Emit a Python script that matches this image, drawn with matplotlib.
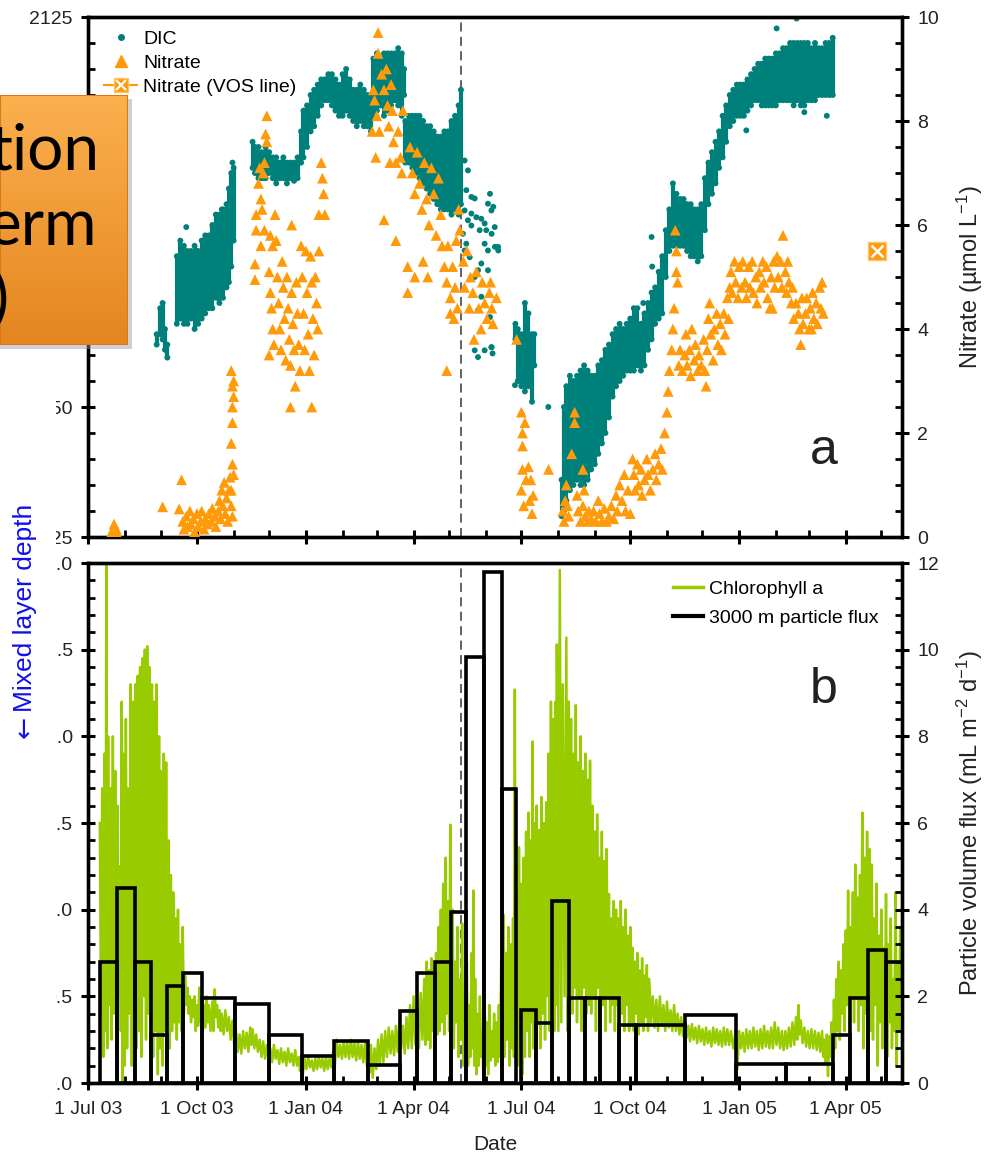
import matplotlib
matplotlib.use("Agg")

from datetime import datetime

import numpy as np
import matplotlib.pyplot as plt
import matplotlib.dates as mdates
from matplotlib.lines import Line2D
from matplotlib.patches import Rectangle
from matplotlib.ticker import MultipleLocator
from matplotlib.legend_handler import HandlerTuple

plt.rcParams["font.family"] = ["Liberation Sans", "DejaVu Sans"]
plt.rcParams["mathtext.default"] = "regular"

# all days counted from 1 Jul 2003
BASE = mdates.date2num(datetime(2003, 7, 1))
X_END = 687.5
EVENT_DAY = 315

# ---- panel a: DIC (band of dense points, low / high edge per node) ----
dic_day = [58, 61, 63, 65, 67,
           75, 78, 81, 84, 87, 90, 93, 96, 99, 102, 105, 108, 111, 114, 117, 119, 121, 123,
           139, 141, 144, 147, 150, 153, 156, 159, 162, 165, 168, 171, 174, 177,
           180, 182, 185, 188, 191, 194, 197,
           200, 203, 206, 209, 212, 215, 218, 221, 224, 227, 230, 233, 236, 239,
           241, 244, 247, 250, 253, 256, 259, 262, 265, 267,
           268, 271, 274, 277, 280, 283, 286, 289, 292, 295, 298, 301, 304, 307, 310, 313, 315,
           361, 363, 366, 369, 372, 375, 377,
           400, 402, 404, 407, 410, 413, 416, 419, 422, 425, 428, 431, 434, 437, 440, 443,
           446, 449, 452, 455, 458, 461, 464, 467, 470, 473, 476, 479, 482, 485, 488, 491,
           494, 497, 500, 503, 506, 509, 512, 515, 518, 521, 524, 527, 530, 533, 536, 539,
           542, 545, 548, 551, 554, 557, 560, 563, 566, 569, 572, 575, 578, 581, 584, 587,
           590, 593, 596, 599, 602, 605, 608, 611, 614, 617, 620, 623, 626, 629]
dic_lo = [2062, 2064, 2063, 2061, 2059.5,
          2066, 2067, 2066, 2066, 2067, 2065, 2066, 2067, 2068, 2069, 2069, 2071, 2070, 2071, 2073, 2074, 2077, 2082,
          2096, 2095, 2094, 2094, 2094, 2095, 2094, 2093, 2094, 2094, 2093, 2094, 2093.5, 2094,
          2097, 2098, 2100, 2103, 2104, 2106, 2108,
          2109, 2109, 2108, 2107, 2106, 2106, 2107, 2106, 2105, 2104, 2105, 2104, 2104, 2103,
          2106, 2107, 2108, 2106, 2107, 2108, 2109, 2108, 2106, 2110,
          2097, 2097, 2096, 2095, 2094, 2093, 2092, 2091, 2090, 2089, 2088, 2088, 2088, 2087, 2088, 2087, 2089,
          2063, 2055, 2054, 2053, 2054, 2051, 2058,
          2029, 2030, 2032, 2034, 2035, 2036, 2035, 2035, 2036, 2038, 2039, 2041, 2043, 2045, 2048, 2052,
          2054, 2055, 2056, 2057, 2057, 2057, 2058, 2057, 2058, 2061, 2063, 2066, 2067, 2068, 2075, 2080,
          2081, 2081, 2081, 2081, 2080, 2079, 2079, 2078, 2079, 2084, 2089, 2091, 2093, 2096, 2098, 2101,
          2104, 2105, 2106, 2106, 2106, 2107, 2108, 2109, 2109, 2108, 2108, 2108, 2108, 2108, 2109, 2109,
          2109, 2109, 2108, 2109, 2108, 2108, 2109, 2109, 2109, 2110, 2110, 2110, 2110, 2110]
dic_hi = [2064, 2069, 2070, 2065, 2062,
          2079, 2082, 2081, 2080, 2080, 2081, 2080, 2082, 2083, 2083, 2085, 2087, 2087, 2088, 2089, 2092, 2095, 2096,
          2101, 2100, 2100, 2099, 2100, 2099, 2098, 2098, 2097, 2098, 2097, 2097, 2097, 2098,
          2103, 2107, 2108, 2110, 2111, 2112, 2113,
          2113, 2114, 2114, 2113, 2112, 2114, 2115, 2113, 2111, 2111, 2112, 2111, 2110, 2110,
          2117, 2118, 2117, 2118, 2118, 2118, 2118, 2119, 2118, 2115,
          2105, 2106, 2106, 2106, 2106, 2105, 2104, 2104, 2103, 2102, 2102, 2103, 2103, 2105, 2106, 2108, 2111,
          2066, 2065, 2064, 2070, 2068, 2064, 2064,
          2036, 2050, 2054, 2056, 2055, 2056, 2057, 2058, 2057, 2056, 2056, 2058, 2059, 2061, 2062, 2064,
          2065, 2066, 2065, 2066, 2067, 2069, 2069, 2066, 2068, 2070, 2072, 2073, 2076, 2079, 2084, 2088,
          2093, 2091, 2090, 2090, 2089, 2089, 2088, 2088, 2089, 2094, 2097, 2099, 2101, 2103, 2106, 2108,
          2110, 2111, 2112, 2112, 2112, 2113, 2114, 2115, 2116, 2116, 2117, 2117, 2117, 2118, 2118, 2119,
          2119, 2120, 2120, 2120, 2120, 2120, 2120, 2119, 2120, 2119, 2119, 2120, 2120, 2121]

# scattered single DIC points
dic_dot_day = [318.1, 320.9, 319.5, 323.8, 326.6, 318.1, 320.9, 323.8, 328.0, 330.8, 332.2, 335.0,
               336.4, 337.8, 340.7, 343.5, 346.3, 335.0, 337.8, 332.2, 329.4, 326.6, 337.8, 332.2,
               329.4, 326.6, 329.4, 335.0, 340.7, 318.1, 316.7, 319.5, 322.4, 323.8, 339.5, 342.3,
               340.9, 343.7, 346.5, 339.5, 340.9, 341.7, 360.6, 366.2, 388.8, 476, 476.5, 469,
               598.5, 581.6, 556, 624, 605, 83, 113, 122]
dic_dot_val = [2097.4, 2095.5, 2091.7, 2090.4, 2090.1, 2087.8, 2085.9, 2084.9, 2086.5, 2084.0, 2086.2, 2085.3,
               2084.0, 2089.1, 2087.8, 2084.6, 2080.8, 2081.4, 2080.1, 2077.6, 2076.3, 2075.0, 2076.3, 2071.2,
               2068.6, 2060.9, 2059.6, 2060.9, 2061.5, 2080.1, 2083.3, 2081.4, 2078.8, 2087.2, 2091.0, 2088.5,
               2083.3, 2080.8, 2080.1, 2067.3, 2061.5, 2060.3, 2054.2, 2048.7, 2050.0, 2082.7, 2077.0, 2070.0,
               2124.7, 2122.8, 2103.2, 2106.0, 2106.7, 2084.6, 2088.0, 2097.0]

# ---- panel a: nitrate ----
nit_day = [20, 22, 24, 25, 63, 77, 79,
           80, 81, 83, 84, 86, 87, 89, 90, 92, 93, 95, 96, 98, 99, 101, 102, 104, 105, 107, 108,
           110, 111, 112, 113, 114, 115, 116, 117, 118, 119, 120, 121, 122,
           121, 122, 122, 123, 122, 123, 121, 123, 122, 121,
           141, 141, 142, 142, 145, 146, 144, 151, 150, 151, 149, 148, 147, 149, 146, 154, 156,
           153, 154, 155, 156, 157, 153,
           158, 159, 160, 161, 162, 163, 164, 165, 166, 167, 168, 169, 170, 171, 172, 173, 174,
           175, 176, 177, 178, 179, 180, 171, 172,
           181, 182, 183, 184, 185, 186, 187, 188, 189, 190, 191, 189, 192, 193, 194, 195,
           197, 198, 199, 200, 195,
           245, 245, 241, 242, 244, 246, 248, 250, 252, 253, 254, 256, 257, 258, 260, 262, 264,
           265, 240, 243, 250, 260, 270, 255, 266,
           272, 274, 276, 278, 280, 282, 284, 286, 288, 290, 292, 294, 296, 298, 299, 301, 303,
           304, 306, 308, 309, 311, 312, 313, 314, 283, 287, 276, 270, 303, 306, 310,
           317, 318, 320, 322, 323, 325, 326, 328, 330, 332, 333, 335, 337, 339, 340, 341, 342, 345,
           362, 366, 367, 367, 369, 367, 366, 368, 370, 372, 374, 373, 375, 376,
           389,
           401, 402, 403, 404, 405, 406, 411, 411, 408.5, 418, 413, 414, 416, 418, 419, 420, 422, 423,
           425, 427, 429, 431, 432, 434, 436, 438, 440, 442, 444, 446, 447, 449, 451, 453, 454, 456, 458,
           460, 461, 462, 464, 465, 467, 468, 470, 472, 473, 475, 477, 479, 480, 482, 484, 485,
           487, 489, 490, 491, 493, 494, 495, 496, 497, 497, 498,
           499, 500, 502, 504, 505, 506, 508, 509, 510, 512, 513, 515, 516, 518, 520, 521, 523, 522,
           524, 525, 526, 528, 529, 531, 532, 534, 535, 537, 538, 540, 541, 542,
           543, 544, 546, 547, 549, 550, 552, 553, 555, 556, 558, 559, 561, 562, 564, 565, 578,
           567, 568, 570, 571, 573, 574, 576, 577, 579, 580, 582, 583, 585, 586, 587,
           589, 590, 591, 592, 594, 595, 596, 598, 600, 601, 602, 604, 603,
           606, 607, 609, 610, 612, 613, 615, 616, 618, 619, 620, 621, 611]
nit_val = [0.1, 0.25, 0.15, 0.05, 0.58, 0.54, 1.1,
           0.3, 0.15, 0.4, 0.2, 0.5, 0.25, 0.35, 0.1, 0.45, 0.2, 0.3, 0.5, 0.15, 0.35, 0.25, 0.45, 0.3, 0.55, 0.4, 0.2,
           0.5, 0.7, 0.35, 0.9, 0.6, 1.05, 0.45, 0.75, 0.3, 0.9, 1.15, 0.6, 0.4,
           1.8, 2.2, 2.5, 2.7, 2.9, 3.0, 3.2, 1.2, 1.4, 0.9,
           5.25, 4.95, 6.2, 5.9, 7.1, 6.5, 6.8, 8.1, 7.75, 7.6, 7.2, 7.0, 6.3, 5.9, 5.6, 5.8, 5.6,
           5.1, 4.7, 4.4, 4.0, 3.7, 3.5,
           6.2, 5.7, 5.0, 4.5, 4.0, 3.6, 5.3, 4.8, 4.2, 3.4, 5.0, 4.4, 3.8, 3.3, 4.7, 4.1, 3.6,
           2.9, 4.9, 4.3, 3.7, 3.2, 5.6, 2.5, 6.0,
           5.0, 4.3, 3.6, 5.5, 4.7, 3.9, 3.2, 5.4, 4.9, 4.2, 3.5, 2.5, 5.0, 4.5, 4.0, 5.5,
           7.2, 6.9, 6.6, 6.2, 6.2,
           9.7, 9.3, 8.6, 8.4, 8.1, 7.8, 8.9, 8.6, 9.0, 8.3, 7.9, 8.7, 8.2, 7.6, 7.2, 7.8, 7.3,
           7.0, 7.8, 7.3, 6.1, 5.7, 4.7, 7.2, 8.2,
           7.5, 7.0, 6.6, 7.4, 6.8, 6.3, 7.2, 6.5, 6.0, 7.1, 6.6, 5.8, 6.9, 6.2, 5.6, 5.2, 4.9,
           5.6, 4.6, 5.2, 4.2, 5.7, 4.4, 6.3, 5.9, 5.3, 5.0, 5.0, 5.2, 3.2, 4.3, 4.8,
           5.3, 4.8, 5.5, 4.4, 5.0, 4.7, 3.8, 5.1, 4.4, 4.0, 4.9, 4.5, 4.2, 4.7, 4.9, 4.4, 4.1, 4.6,
           3.8, 2.4, 2.0, 1.75, 2.2, 1.3, 0.9, 0.6, 1.1, 1.35, 1.1, 0.7, 0.45, 0.8,
           1.3,
           0.5, 0.3, 0.7, 1.0, 0.6, 0.4, 2.4, 2.2, 1.6, 1.3, 0.8, 0.5, 0.3, 0.6, 0.9, 0.4, 0.3, 0.5,
           0.35, 0.5, 0.3, 0.7, 0.45, 0.3, 0.55, 0.3, 0.4, 0.6, 0.35, 0.8, 0.5, 1.0, 0.7, 1.2, 0.5, 0.9, 0.45,
           1.5, 1.2, 0.9, 1.4, 1.0, 1.3, 0.8, 1.1, 1.5, 1.2, 0.9, 1.3, 1.6, 1.1, 1.4, 1.7, 1.3,
           2.0, 2.4, 2.8, 3.2, 3.6, 4.0, 4.4, 5.9, 5.5, 5.1, 4.9,
           3.3, 3.6, 3.2, 3.5, 3.9, 3.3, 3.6, 3.1, 4.0, 3.4, 3.7, 3.2, 3.5, 3.3, 3.8, 3.2, 3.6, 2.9,
           4.2, 4.5, 3.9, 3.4, 4.0, 4.3, 3.7, 4.1, 3.6, 4.3, 3.9, 4.6, 4.2, 4.8,
           5.1, 4.7, 5.3, 4.9, 4.6, 5.2, 4.8, 5.3, 4.9, 4.6, 5.2, 4.8, 5.3, 4.7, 5.0, 4.5, 4.4,
           5.1, 4.8, 5.3, 4.9, 5.2, 4.6, 4.4, 5.0, 5.3, 4.8, 5.4, 5.0, 5.3, 4.8, 5.8,
           5.1, 4.7, 5.3, 4.9, 4.5, 4.8, 4.2, 4.5, 4.3, 4.0, 3.7, 4.1, 4.6,
           4.3, 4.6, 4.0, 4.4, 4.7, 4.2, 4.5, 4.1, 4.8, 4.4, 4.9, 4.3, 4.0]

vos_day = [666]
vos_val = [5.5]
vos_err = [0.12]

# ---- panel b: chlorophyll a (peak / trough per node) ----
chl_day = [10, 12, 14, 15.5, 17, 19, 21, 23, 25, 27, 28.5, 30, 32, 34, 36, 38, 40, 42, 44, 46,
           48, 50, 52, 54, 56, 58, 60, 62, 64, 66, 68, 70, 72, 74, 76, 78, 80, 82, 84, 86,
           88, 90, 92, 94, 96, 98, 100, 102, 105, 107, 109, 111, 113, 116, 119, 122, 125, 128, 131, 134,
           137, 139, 142, 145, 148, 151, 154, 157, 160, 163, 166, 169, 172, 175, 178, 180, 183, 186, 189, 192,
           195, 198, 201, 204, 207, 210, 213, 216, 219, 222, 225, 228, 231, 234, 237, 239, 242, 245, 248, 251,
           254, 257, 260, 263, 266, 269, 272, 275, 278, 281, 284, 286, 288, 290, 292, 294, 296, 298, 300, 302,
           304, 306, 308, 310, 312, 314, 316, 318, 320, 322, 324, 325.5, 327, 329, 331, 333, 335, 337, 339, 341,
           343, 345, 347, 349, 351, 353, 355, 357, 359, 360.5, 362, 364, 366, 368, 370, 372, 374, 375.5, 377, 379,
           381, 383, 385, 387, 389, 391, 393, 395, 396, 398.5, 401, 404, 406, 408, 410, 412, 414, 416, 418, 420,
           422, 424, 426, 428, 430, 432, 434, 436, 438, 440, 442, 444, 446, 448, 450, 452, 454, 456, 458, 460,
           462, 464, 466, 468, 470, 472, 474, 477, 480, 483, 486, 489, 492, 495, 498, 501, 504, 507, 510, 513,
           516, 519, 522, 525, 528, 531, 534, 537, 540, 543, 547, 550, 553, 556, 559, 562, 565, 568, 571, 574,
           577, 580, 583, 586, 589, 592, 595, 598, 600, 602, 605, 608, 611, 614, 617, 620, 622, 624, 626, 628,
           630, 632, 634, 636, 638, 640, 642, 644, 646, 648, 650, 652, 654, 656, 658, 660, 662, 664, 666, 668,
           670, 672, 674, 676, 678, 680, 682, 684, 686, 688]
chl_hi = [1.5, 1.7, 1.9, 3.0, 2.0, 1.7, 2.0, 1.8, 1.6, 1.25, 2.2, 1.9, 2.1, 1.7, 2.3, 2.2, 2.3, 2.35, 2.4, 2.45,
          2.5, 2.52, 2.4, 2.3, 2.2, 2.3, 2.0, 1.8, 1.9, 1.85, 1.4, 1.2, 1.1, 0.95, 1.0, 0.8, 0.9, 0.62, 0.55, 0.5,
          0.48, 0.5, 0.45, 0.55, 0.5, 0.45, 0.5, 0.45, 0.47, 0.54, 0.45, 0.42, 0.4, 0.42, 0.38, 0.36, 0.3, 0.28, 0.3, 0.29,
          0.32, 0.31, 0.28, 0.25, 0.24, 0.22, 0.2, 0.22, 0.19, 0.2, 0.18, 0.2, 0.17, 0.19, 0.15, 0.12, 0.14, 0.15, 0.13, 0.14,
          0.15, 0.14, 0.15, 0.14, 0.18, 0.25, 0.22, 0.24, 0.23, 0.25, 0.23, 0.24, 0.22, 0.23, 0.18, 0.22, 0.2, 0.25, 0.28, 0.3,
          0.32, 0.3, 0.33, 0.35, 0.33, 0.38, 0.45, 0.5, 0.48, 0.52, 0.6, 0.7, 0.65, 0.72, 0.6, 0.75, 0.9, 1.0, 1.15, 1.3,
          1.05, 1.49, 1.0, 0.7, 0.9, 0.6, 0.92, 0.5, 0.7, 0.45, 0.75, 1.11, 0.6, 0.4, 0.5, 0.3, 0.45, 0.35, 0.45, 0.3,
          0.4, 0.35, 0.45, 0.7, 0.97, 0.75, 0.9, 0.8, 0.95, 2.27, 1.1, 1.36, 1.15, 1.3, 1.45, 1.56, 1.4, 1.97, 1.5, 1.6,
          1.46, 1.65, 1.5, 1.62, 1.9, 2.2, 2.1, 2.2, 2.53, 2.96, 2.3, 2.57, 2.2, 2.1, 1.9, 2.18, 1.85, 2.0, 1.8, 1.9,
          1.75, 1.86, 1.6, 1.45, 1.55, 1.3, 1.45, 1.28, 1.35, 1.09, 0.95, 1.05, 1.0, 0.95, 1.05, 0.9, 1.0, 0.85, 0.9, 0.78,
          0.7, 0.75, 0.65, 0.72, 0.62, 0.68, 0.6, 0.5, 0.48, 0.5, 0.45, 0.47, 0.42, 0.45, 0.4, 0.38, 0.36, 0.33, 0.34, 0.32,
          0.33, 0.31, 0.32, 0.3, 0.32, 0.31, 0.3, 0.32, 0.31, 0.3, 0.3, 0.3, 0.29, 0.31, 0.3, 0.32, 0.3, 0.31, 0.33, 0.3,
          0.32, 0.35, 0.32, 0.3, 0.3, 0.32, 0.35, 0.38, 0.45, 0.36, 0.32, 0.3, 0.31, 0.3, 0.29, 0.3, 0.25, 0.28, 0.27, 0.35,
          0.48, 0.6, 0.7, 0.65, 0.8, 0.88, 1.11, 0.9, 1.1, 1.26, 1.07, 1.2, 1.56, 1.3, 1.45, 1.35, 1.26, 0.95, 1.15, 0.85,
          1.0, 0.78, 1.09, 0.8, 0.95, 0.6, 1.1, 0.7, 0.9, 0.5]
chl_lo = [0.4, 0.15, 0.3, 0.2, 0.45, 0.25, 0.4, 0.2, 0.5, 0.3, 0.0, 0.1, 0.2, 0.4, 0.1, 0.35, 0.2, 0.3, 0.15, 0.5,
          0.25, 0.4, 0.2, 0.15, 0.3, 0.05, 0.2, 0.1, 0.3, 0.05, 0.2, 0.3, 0.35, 0.25, 0.35, 0.3, 0.4, 0.45, 0.4, 0.35,
          0.38, 0.3, 0.33, 0.35, 0.3, 0.32, 0.35, 0.3, 0.3, 0.38, 0.32, 0.3, 0.28, 0.3, 0.25, 0.22, 0.18, 0.17, 0.2, 0.18,
          0.22, 0.2, 0.18, 0.15, 0.14, 0.13, 0.12, 0.14, 0.11, 0.12, 0.1, 0.12, 0.1, 0.1, 0.07, 0.05, 0.08, 0.09, 0.07, 0.08,
          0.09, 0.07, 0.08, 0.09, 0.1, 0.15, 0.14, 0.15, 0.14, 0.15, 0.13, 0.14, 0.12, 0.1, 0.06, 0.03, 0.08, 0.1, 0.12, 0.15,
          0.17, 0.16, 0.18, 0.2, 0.17, 0.2, 0.2, 0.22, 0.2, 0.25, 0.22, 0.25, 0.2, 0.3, 0.25, 0.28, 0.3, 0.35, 0.28, 0.4,
          0.3, 0.25, 0.2, 0.35, 0.15, 0.25, 0.1, 0.2, 0.1, 0.15, 0.2, 0.1, 0.05, 0.1, 0.15, 0.0, 0.1, 0.05, 0.13, 0.15,
          0.1, 0.12, 0.15, 0.2, 0.15, 0.25, 0.1, 0.2, 0.15, 0.2, 0.1, 0.2, 0.05, 0.15, 0.3, 0.15, 0.35, 0.2, 0.1, 0.35,
          0.2, 0.4, 0.25, 0.5, 0.3, 0.45, 0.3, 0.45, 0.3, 0.35, 0.5, 0.3, 0.55, 0.4, 0.55, 0.35, 0.5, 0.3, 0.55, 0.4,
          0.45, 0.4, 0.5, 0.3, 0.55, 0.35, 0.45, 0.3, 0.5, 0.35, 0.45, 0.3, 0.45, 0.25, 0.4, 0.3, 0.45, 0.3, 0.35, 0.3,
          0.4, 0.28, 0.35, 0.3, 0.38, 0.3, 0.35, 0.32, 0.3, 0.33, 0.3, 0.32, 0.3, 0.3, 0.28, 0.27, 0.26, 0.24, 0.25, 0.23,
          0.24, 0.22, 0.23, 0.21, 0.23, 0.22, 0.21, 0.22, 0.22, 0.2, 0.08, 0.2, 0.18, 0.2, 0.2, 0.21, 0.19, 0.2, 0.21, 0.2,
          0.2, 0.22, 0.2, 0.19, 0.2, 0.21, 0.22, 0.25, 0.28, 0.23, 0.21, 0.2, 0.2, 0.19, 0.18, 0.15, 0.12, 0.04, 0.15, 0.1,
          0.2, 0.3, 0.25, 0.4, 0.3, 0.45, 0.3, 0.5, 0.35, 0.5, 0.3, 0.45, 0.2, 0.4, 0.15, 0.3, 0.25, 0.45, 0.1, 0.35,
          0.2, 0.3, 0.15, 0.35, 0.2, 0.3, 0.1, 0.3, 0.5, 0.45]

# ---- panel b: 3000 m particle flux (trap cups) ----
flux_left = [10.4, 24.8, 40.0, 53.5, 66.7, 80.2, 96.6, 124.4, 152.6, 181.0, 207.5, 236.5,
             263.2, 278.2, 292.8, 306.3, 319.5, 334.2, 349.4, 365.4, 378.1, 391.6, 406.2, 419.7,
             432.4, 448.7, 462.5, 504.2, 547.0, 589.2, 629.5, 643.5, 659.0, 673.7]
flux_right = [24.8, 40.0, 53.5, 66.7, 80.2, 96.6, 124.4, 152.6, 181.0, 207.5, 236.5, 263.2,
              278.2, 292.8, 306.3, 319.5, 334.2, 349.4, 361.5, 378.1, 391.6, 406.2, 419.7, 432.4,
              448.7, 462.5, 504.2, 547.0, 589.2, 629.5, 643.5, 659.0, 673.7, 690.0]
flux_val = [2.79, 4.51, 2.79, 1.11, 2.23, 2.54, 1.97, 1.82, 1.11, 0.62, 0.98, 0.42,
            1.66, 2.54, 2.79, 3.95, 9.83, 11.8, 6.78, 1.68, 1.39, 4.2, 1.97, 1.97,
            1.97, 1.35, 1.35, 1.58, 0.45, 0.45, 1.11, 1.97, 3.06, 2.79]

TEAL = "#00807B"
ORANGE = "#FF9A0A"
GREEN = "#99CC00"
TXT = "#222222"

W, H = 998, 1157


def fx(px):
    return px / W


def fy(py):
    return 1 - py / H


def style_axis(ax, side):
    for s in ax.spines.values():
        s.set_linewidth(2.4)
    ax.tick_params(axis="y", which="major", direction="inout", length=10, width=2.2,
                   labelsize=14, labelcolor=TXT, pad=6, left=(side == "left"),
                   right=(side == "right"), labelleft=(side == "left"),
                   labelright=(side == "right"))
    ax.tick_params(axis="y", which="minor", direction="in", length=5, width=2,
                   left=(side == "left"), right=(side == "right"))


fig = plt.figure(figsize=(W / 100, H / 100), dpi=100)

ax1 = fig.add_axes([fx(88), fy(537), fx(902) - fx(88), 520 / H])
ax2 = fig.add_axes([fx(88), fy(1083), fx(902) - fx(88), 520 / H])
ax1r = ax1.twinx()
ax2r = ax2.twinx()

# panel a
xd = BASE + np.array(dic_day)
ax1.vlines(xd, dic_lo, dic_hi, color=TEAL, lw=3.0, zorder=2)
ax1.scatter(xd, dic_lo, s=18, color=TEAL, edgecolors="none", zorder=2)
ax1.scatter(xd, dic_hi, s=18, color=TEAL, edgecolors="none", zorder=2)
ax1.scatter(BASE + np.array(dic_dot_day), dic_dot_val, s=18, color=TEAL, edgecolors="none", zorder=2)

ax1r.scatter(BASE + np.array(nit_day), nit_val, marker="^", s=60, color=ORANGE,
             edgecolors="none", zorder=3)
ax1r.errorbar(BASE + np.array(vos_day), vos_val, yerr=vos_err, fmt="s", ms=13,
              color=ORANGE, mec="#FFC46A", mew=1, capsize=3, elinewidth=1, zorder=4)
ax1r.plot(BASE + np.array(vos_day), vos_val, ls="none", marker="x", ms=9, mew=1.8,
          color="white", zorder=5)

ax1.set_ylim(2025, 2125)
ax1.yaxis.set_major_locator(MultipleLocator(25))
ax1.yaxis.set_minor_locator(MultipleLocator(5))
ax1r.set_ylim(0, 10)
ax1r.yaxis.set_major_locator(MultipleLocator(2))
ax1r.yaxis.set_minor_locator(MultipleLocator(0.5))
ax1r.set_ylabel("Nitrate (µmol L$^{-1}$)", fontsize=17, color=TXT, labelpad=11)

h_dic = Line2D([], [], ls="none", marker="o", ms=4, color=TEAL)
h_nit = Line2D([], [], ls="none", marker="^", ms=8, color=ORANGE)
h_vos1 = Line2D([], [], ls="-", lw=1.5, marker="s", ms=10, color=ORANGE, mec="#FFC46A")
h_vos2 = Line2D([], [], ls="none", marker="x", ms=7, mew=1.5, color="white")
ax1r.legend([h_dic, h_nit, (h_vos1, h_vos2)], ["DIC", "Nitrate", "Nitrate (VOS line)"],
            loc="upper left", bbox_to_anchor=(0.02, 0.974), frameon=False, fontsize=14,
            handlelength=1.7, handletextpad=0.3, labelspacing=0.33, borderpad=0,
            borderaxespad=0, handler_map={tuple: HandlerTuple(ndivide=1)})
ax1r.text(0.904, 0.14, "a", transform=ax1r.transAxes, fontsize=36, ha="center",
          va="baseline", color=TXT)

# panel b
t, v = [], []
for i in range(len(chl_day)):
    step = chl_day[i + 1] - chl_day[i] if i + 1 < len(chl_day) else 2
    t += [chl_day[i], chl_day[i] + step / 2]
    v += [chl_hi[i], chl_lo[i]]
ax2.plot(BASE + np.array(t), v, color=GREEN, lw=1.8, zorder=2)

left = np.array(flux_left)
ax2r.bar(BASE + left, flux_val, width=np.array(flux_right) - left, align="edge",
         fill=False, edgecolor="black", linewidth=2.6, zorder=3)

ax2.set_ylim(0, 3)
ax2.yaxis.set_major_locator(MultipleLocator(0.5))
ax2.yaxis.set_minor_locator(MultipleLocator(0.1))
ax2r.set_ylim(0, 12)
ax2r.yaxis.set_major_locator(MultipleLocator(2))
ax2r.yaxis.set_minor_locator(MultipleLocator(0.4))
ax2r.set_ylabel("Particle volume flux (mL m$^{-2}$ d$^{-1}$)", fontsize=17, color=TXT,
                labelpad=11)
ax2.set_xlabel("Date", fontsize=15, color=TXT, labelpad=12)

h_chl = Line2D([], [], color=GREEN, lw=2.5)
h_flux = Line2D([], [], color="black", lw=3)
ax2r.legend([h_chl, h_flux], ["Chlorophyll a", "3000 m particle flux"], loc="upper left",
            bbox_to_anchor=(0.7187, 0.967), frameon=False, fontsize=14, handlelength=1.55,
            handletextpad=0.3, labelspacing=0.6, borderpad=0, borderaxespad=0)
ax2r.text(0.904, 0.731, "b", transform=ax2r.transAxes, fontsize=36, ha="center",
          va="baseline", color=TXT)

for ax, side in ((ax1, "left"), (ax1r, "right"), (ax2, "left"), (ax2r, "right")):
    style_axis(ax, side)

for ax in (ax1, ax2):
    ax.set_xlim(BASE, BASE + X_END)
    ax.xaxis.set_major_locator(mdates.MonthLocator(bymonth=[1, 4, 7, 10]))
    ax.xaxis.set_minor_locator(mdates.MonthLocator())
    ax.xaxis.set_major_formatter(mdates.DateFormatter("%-d %b %y"))
    ax.tick_params(axis="x", which="major", direction="inout", length=10, width=2.2,
                   labelsize=14, labelcolor=TXT, pad=8, top=False)
    ax.tick_params(axis="x", which="minor", direction="in", length=5, width=2, top=False)
    ax.axvline(BASE + EVENT_DAY, color="#555555", lw=1.3, ls=(0, (5, 3)), zorder=1)
ax1.tick_params(axis="x", labelbottom=False)

# slide overlay: white cover on the left edge, orange call-out box and blue note
fig.add_artist(Rectangle((0, fy(1094)), fx(56), (1094 - 35) / H, transform=fig.transFigure,
                         facecolor="white", edgecolor="none", zorder=5))
fig.add_artist(Rectangle((0, fy(349)), fx(132), 250 / H, transform=fig.transFigure,
                         facecolor="#9a9a9a", edgecolor="none", alpha=0.45, zorder=8))
box = fig.add_axes([0, fy(345), fx(128), 250 / H], zorder=10)
grad = np.linspace(0, 1, 120)[:, None]
top_c = np.array([251, 176, 78]) / 255
bot_c = np.array([228, 134, 32]) / 255
box.imshow(top_c + grad[:, :, None] * (bot_c - top_c), aspect="auto", extent=[0, 1, 0, 1])
box.set_axis_off()
box.add_patch(Rectangle((0, 0), 1, 1, transform=box.transAxes, fill=False,
                        edgecolor="#D67A1A", lw=1.5))
for txt, xr, yb in (("tion", 100, 170), ("erm", 97, 245), (")", 9, 320)):
    fig.text(fx(xr), fy(yb), txt, ha="right", va="baseline", fontsize=46,
             family=["Lato", "DejaVu Sans"], color="black", zorder=12)

fig.text(fx(25), fy(712), "Mixed layer depth", rotation=90, ha="center", va="bottom",
         fontsize=19, color="#1010F0", zorder=12)
fig.text(fx(25), fy(716), "←", rotation=90, ha="center", va="top",
         fontsize=19, family=["DejaVu Sans"], color="#1010F0", zorder=12)

fig.savefig("out.png", dpi=100)
